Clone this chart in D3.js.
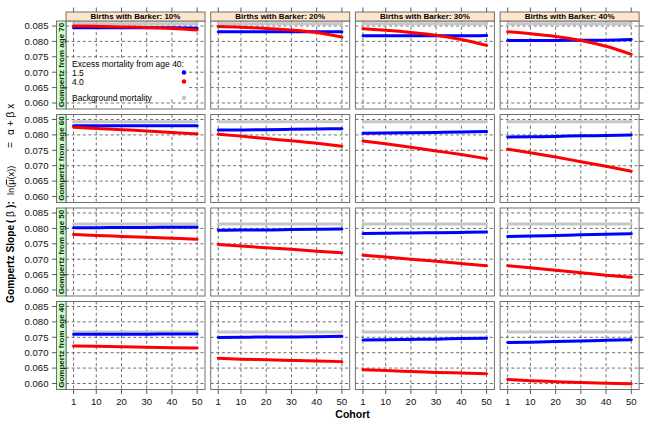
<!DOCTYPE html>
<html><head><meta charset="utf-8">
<script src="https://cdn.jsdelivr.net/npm/d3@7"></script>
<style>
body{margin:0;background:#fff;}
svg{display:block;font-family:"Liberation Sans",Arial,Helvetica,sans-serif;}
</style>
</head><body>
<svg id="c" width="651" height="424"></svg>
<script>
// ---------------- data ----------------
const cohorts = [1, 10, 20, 30, 40, 50];
const barkerLabels = ["Births with Barker: 10%", "Births with Barker: 20%", "Births with Barker: 30%", "Births with Barker: 40%"];
const ageLabels = ["Gompertz from age 70", "Gompertz from age 60", "Gompertz from age 50", "Gompertz from age 40"];
const xTicks = [1, 10, 20, 30, 40, 50];
const yTicks = [0.060, 0.065, 0.070, 0.075, 0.080, 0.085];
const yTickLabels = ["0.060", "0.065", "0.070", "0.075", "0.080", "0.085"];
const legendTitle = "Excess mortality from age 40:";
const legendLevels = ["1.5", "4.0"];
const legendBackground = "Background mortality";

// background mortality slope per age row (70, 60, 50, 40)
const background = [0.0857, 0.0843, 0.0814, 0.0767];

// excess mortality 1.5 (blue), per Barker column 10..40%, values at cohorts
const excess15_age70 = [
  [0.0844, 0.0844, 0.0844, 0.0844, 0.0844, 0.0843],
  [0.0831, 0.0831, 0.0831, 0.0831, 0.0831, 0.0831],
  [0.0818, 0.0818, 0.0818, 0.0818, 0.0818, 0.0819],
  [0.0803, 0.0803, 0.0803, 0.0804, 0.0804, 0.0806]];
const excess15_age60 = [
  [0.0830, 0.0830, 0.0830, 0.0830, 0.0830, 0.0830],
  [0.0816, 0.0816, 0.0817, 0.0818, 0.0819, 0.0820],
  [0.0805, 0.0806, 0.0807, 0.0808, 0.0809, 0.0811],
  [0.0793, 0.0794, 0.0795, 0.0797, 0.0798, 0.0800]];
const excess15_age50 = [
  [0.0802, 0.0802, 0.0803, 0.0803, 0.0804, 0.0804],
  [0.0794, 0.0795, 0.0795, 0.0796, 0.0797, 0.0798],
  [0.0783, 0.0784, 0.0785, 0.0786, 0.0787, 0.0788],
  [0.0774, 0.0775, 0.0777, 0.0779, 0.0781, 0.0783]];
const excess15_age40 = [
  [0.0760, 0.0760, 0.0760, 0.0760, 0.0761, 0.0761],
  [0.0749, 0.0750, 0.0751, 0.0751, 0.0752, 0.0753],
  [0.0741, 0.0742, 0.0743, 0.0744, 0.0746, 0.0747],
  [0.0733, 0.0734, 0.0736, 0.0738, 0.0740, 0.0742]];

// excess mortality 4.0 (red)
const excess40_age70 = [
  [0.0850, 0.0849, 0.0847, 0.0845, 0.0842, 0.0837],
  [0.0848, 0.0846, 0.0842, 0.0837, 0.0829, 0.0814],
  [0.0841, 0.0836, 0.0829, 0.0820, 0.0806, 0.0787],
  [0.0831, 0.0825, 0.0816, 0.0803, 0.0784, 0.0758]];
const excess40_age60 = [
  [0.0825, 0.0821, 0.0817, 0.0813, 0.0808, 0.0803],
  [0.0802, 0.0796, 0.0788, 0.0781, 0.0773, 0.0763],
  [0.0780, 0.0771, 0.0760, 0.0748, 0.0736, 0.0723],
  [0.0754, 0.0742, 0.0728, 0.0713, 0.0698, 0.0682]];
const excess40_age50 = [
  [0.0780, 0.0777, 0.0774, 0.0771, 0.0768, 0.0765],
  [0.0748, 0.0743, 0.0737, 0.0732, 0.0726, 0.0721],
  [0.0713, 0.0707, 0.0700, 0.0693, 0.0686, 0.0679],
  [0.0679, 0.0672, 0.0664, 0.0656, 0.0648, 0.0641]];
const excess40_age40 = [
  [0.0722, 0.0721, 0.0719, 0.0718, 0.0716, 0.0715],
  [0.0682, 0.0679, 0.0677, 0.0675, 0.0673, 0.0671],
  [0.0645, 0.0642, 0.0639, 0.0636, 0.0634, 0.0632],
  [0.0613, 0.0609, 0.0606, 0.0603, 0.0601, 0.0599]];

const blueRows = [excess15_age70, excess15_age60, excess15_age50, excess15_age40];
const redRows = [excess40_age70, excess40_age60, excess40_age50, excess40_age40];

// ---------------- layout ----------------
const svg = d3.select("#c");
const panelW = 139, panelH = 88;
const colLeft = i => 66 + i * 144.7;
const rowTop = j => 21 + j * 93.5;
const stripH = 9, stripW = 9.5;
const COL_BLUE = "#0000ff", COL_RED = "#ff0000", COL_GRAY = "#c6c6c6";
const BORDER = "#707070", GRID = "#4a4a4a";

const x = d3.scaleLinear().domain([-2, 53.1]).range([0, panelW]);
const y = d3.scaleLinear().domain([0.05805, 0.08662]).range([panelH, 0]);
const line = d3.line().x((d, i) => x(cohorts[i])).y(d => y(d)).curve(d3.curveMonotoneX);

for (let j = 0; j < 4; j++) {
  for (let i = 0; i < 4; i++) {
    const g = svg.append("g").attr("transform", `translate(${colLeft(i)},${rowTop(j)})`);
    // grid
    g.selectAll(".gx").data(xTicks).join("line")
      .attr("x1", d => x(d)).attr("x2", d => x(d)).attr("y1", 0).attr("y2", panelH)
      .attr("stroke", GRID).attr("stroke-width", 0.8).attr("stroke-dasharray", "3,2.6");
    g.selectAll(".gy").data(yTicks).join("line")
      .attr("x1", 0).attr("x2", panelW).attr("y1", d => y(d)).attr("y2", d => y(d))
      .attr("stroke", GRID).attr("stroke-width", 0.8).attr("stroke-dasharray", "3,2.6");

    // legend background in first panel
    if (i === 0 && j === 0) {
      g.append("rect").attr("x", 1.5).attr("y", 38).attr("width", 121).attr("height", 39.5).attr("fill", "#fff");
    }

    // series
    const bgSeries = cohorts.map(() => background[j]);
    g.append("path").attr("d", line(bgSeries)).attr("fill", "none")
      .attr("stroke", COL_GRAY).attr("stroke-width", 3.0).attr("stroke-linecap", "round");
    g.append("path").attr("d", line(blueRows[j][i])).attr("fill", "none")
      .attr("stroke", COL_BLUE).attr("stroke-width", 3.0).attr("stroke-linecap", "round");
    g.append("path").attr("d", line(redRows[j][i])).attr("fill", "none")
      .attr("stroke", COL_RED).attr("stroke-width", 3.0).attr("stroke-linecap", "round");

    // border
    g.append("rect").attr("x", 0).attr("y", 0).attr("width", panelW).attr("height", panelH)
      .attr("fill", "none").attr("stroke", BORDER).attr("stroke-width", 1);

    // top strip
    if (j === 0) {
      g.append("rect").attr("x", 0).attr("y", -stripH).attr("width", panelW).attr("height", stripH)
        .attr("fill", "#ffe5cc").attr("stroke", BORDER).attr("stroke-width", 1);
      g.append("text").attr("x", panelW / 2).attr("y", -1.6).attr("text-anchor", "middle")
        .attr("font-size", "8px").attr("font-weight", "bold").text(barkerLabels[i]);
      // top ticks
      g.selectAll(".tt").data(xTicks).join("line")
        .attr("x1", d => x(d)).attr("x2", d => x(d)).attr("y1", -stripH).attr("y2", -stripH - 4.5)
        .attr("stroke", "#333").attr("stroke-width", 0.8);
    }
    // left strip + y axis
    if (i === 0) {
      g.append("rect").attr("x", -stripW).attr("y", 0).attr("width", stripW).attr("height", panelH)
        .attr("fill", "#ccffcc").attr("stroke", BORDER).attr("stroke-width", 1);
      g.append("text").attr("transform", `translate(${-1.8},${panelH / 2}) rotate(-90)`)
        .attr("text-anchor", "middle").attr("font-size", "8px").attr("font-weight", "bold")
        .attr("fill", "#0d2b0d").text(ageLabels[j]);
      g.selectAll(".lt").data(yTicks).join("line")
        .attr("x1", -stripW).attr("x2", -stripW - 4.5).attr("y1", d => y(d)).attr("y2", d => y(d))
        .attr("stroke", "#333").attr("stroke-width", 0.8);
      g.selectAll(".ll").data(yTicks).join("text")
        .attr("x", -stripW - 8).attr("y", d => y(d) + 3.4).attr("text-anchor", "end")
        .attr("font-size", "9.6px").attr("fill", "#111").text((d, k) => yTickLabels[k]);
    }
    // right ticks
    if (i === 3) {
      g.selectAll(".rt").data(yTicks).join("line")
        .attr("x1", panelW).attr("x2", panelW + 4.5).attr("y1", d => y(d)).attr("y2", d => y(d))
        .attr("stroke", "#333").attr("stroke-width", 0.8);
    }
    // bottom axis
    if (j === 3) {
      g.selectAll(".bt").data(xTicks).join("line")
        .attr("x1", d => x(d)).attr("x2", d => x(d)).attr("y1", panelH).attr("y2", panelH + 4.5)
        .attr("stroke", "#333").attr("stroke-width", 0.8);
      g.selectAll(".bl").data(xTicks).join("text")
        .attr("x", d => x(d)).attr("y", panelH + 15.5).attr("text-anchor", "middle")
        .attr("font-size", "9.6px").attr("fill", "#111").text(d => d);
    }

    // legend
    if (i === 0 && j === 0) {
      const lx = 6, dotX = 118;
      g.append("text").attr("x", lx).attr("y", 46).attr("font-size", "8.5px").text(legendTitle);
      g.append("text").attr("x", lx).attr("y", 54.5).attr("font-size", "8.5px").text(legendLevels[0]);
      g.append("text").attr("x", lx).attr("y", 63.5).attr("font-size", "8.5px").text(legendLevels[1]);
      g.append("text").attr("x", lx).attr("y", 80).attr("font-size", "8.5px").text(legendBackground);
      g.append("circle").attr("cx", dotX).attr("cy", 51.5).attr("r", 2.3).attr("fill", COL_BLUE);
      g.append("circle").attr("cx", dotX).attr("cy", 60.5).attr("r", 2.3).attr("fill", COL_RED);
      g.append("circle").attr("cx", dotX).attr("cy", 77).attr("r", 2.3).attr("fill", COL_GRAY);
    }
  }
}

// x label
svg.append("text").attr("x", (colLeft(0) + colLeft(3) + panelW) / 2).attr("y", 418)
  .attr("text-anchor", "middle").attr("font-size", "10.5px").attr("font-weight", "bold").text("Cohort");

// y label
const yl = svg.append("text").attr("transform", "translate(14,303) rotate(-90)").attr("font-size", "10.2px");
yl.append("tspan").attr("x", 0).attr("font-weight", "bold").text("Gompertz Slope");
yl.append("tspan").attr("x", 80).attr("font-weight", "bold").text("(");
yl.append("tspan").attr("x", 86).text("β");
yl.append("tspan").attr("x", 95).attr("font-weight", "bold").text("):");
yl.append("tspan").attr("x", 108).attr("font-size", "9.2px").text("ln(");
yl.append("tspan").attr("font-size", "9.2px").attr("text-decoration", "overline").text("μ");
yl.append("tspan").attr("font-size", "9.2px").text("(x))");
yl.append("tspan").attr("x", 155).text("=");
yl.append("tspan").attr("x", 168).text("α + β x");
</script>
</body></html>
